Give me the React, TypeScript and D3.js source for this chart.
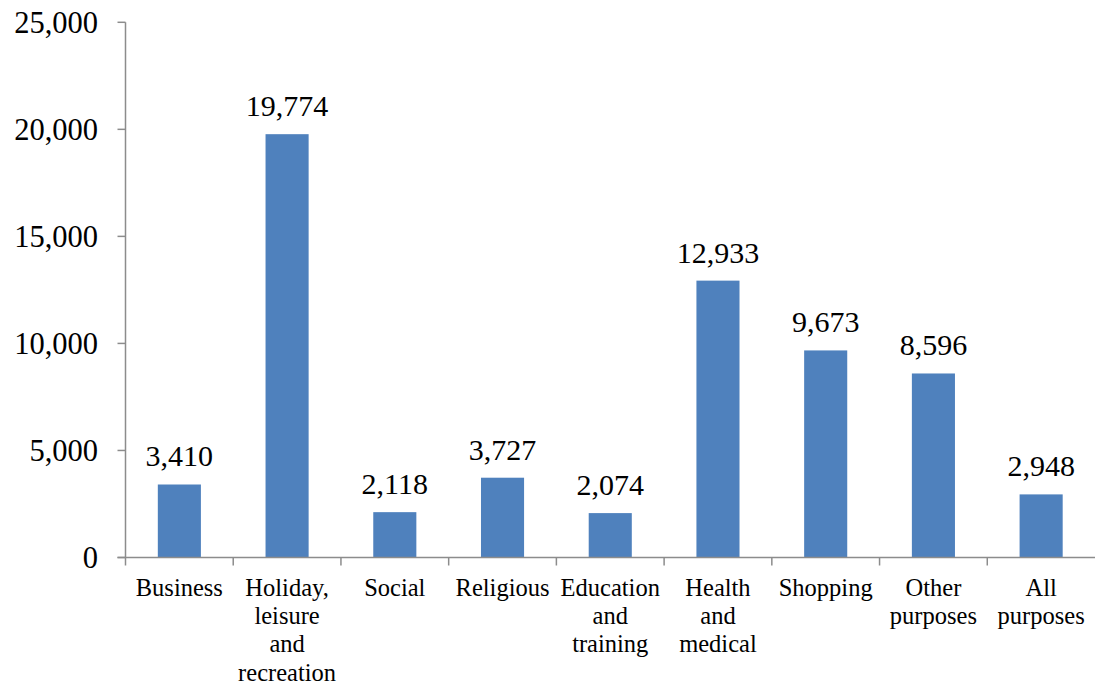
import React from "react";
import * as d3 from "d3";

const categories: string[][] = [
  ["Business"],
  ["Holiday,", "leisure", "and", "recreation"],
  ["Social"],
  ["Religious"],
  ["Education", "and", "training"],
  ["Health", "and", "medical"],
  ["Shopping"],
  ["Other", "purposes"],
  ["All", "purposes"],
];
const values: number[] = [3410, 19774, 2118, 3727, 2074, 12933, 9673, 8596, 2948];
const yTicks: number[] = [0, 5000, 10000, 15000, 20000, 25000];

const W = 1097;
const H = 686;
const left = 125.5;
const right = 1095;
const top = 22.3;
const bottom = 557.5;
const fontFamily = "'Liberation Serif', 'Times New Roman', serif";

export default function App() {
  const ids = categories.map((_, i) => String(i));
  const x = d3.scaleBand<string>().domain(ids).range([left, right]).padding(0);
  const y = d3.scaleLinear().domain([0, 25000]).range([bottom, top]);
  const barW = x.bandwidth() * 0.4;
  const fmt = d3.format(",");
  const axisColor = "#8c8c8c";

  return (
    <svg width={W} height={H} style={{ position: "absolute", left: 0, top: 0, background: "#fff" }}>
      {values.map((v, i) => {
        const cx = (x(String(i)) as number) + x.bandwidth() / 2;
        return (
          <g key={i}>
            <rect x={cx - barW / 2} y={y(v)} width={barW} height={bottom - y(v)} fill="#4F81BD" />
            <text x={cx} y={y(v) - 18} textAnchor="middle" fontFamily={fontFamily} fontSize={30} fill="#000">
              {fmt(v)}
            </text>
          </g>
        );
      })}
      <line x1={left} x2={left} y1={top} y2={bottom} stroke={axisColor} strokeWidth={1.5} />
      {yTicks.map((t) => (
        <g key={t}>
          <line x1={left - 8} x2={left} y1={y(t)} y2={y(t)} stroke={axisColor} strokeWidth={1.5} />
          <text x={98} y={y(t)} dy="0.35em" textAnchor="end" fontFamily={fontFamily} fontSize={30.5} fill="#000">
            {fmt(t)}
          </text>
        </g>
      ))}
      <line x1={left - 8} x2={right} y1={bottom} y2={bottom} stroke={axisColor} strokeWidth={1.5} />
      {ids.map((id) => (
        <line key={id} x1={x(id) as number} x2={x(id) as number} y1={bottom} y2={bottom + 8} stroke={axisColor} strokeWidth={1.5} />
      ))}
      {categories.map((lines, i) => {
        const cx = (x(String(i)) as number) + x.bandwidth() / 2;
        return (
          <text key={i} textAnchor="middle" fontFamily={fontFamily} fontSize={24.5} fill="#000">
            {lines.map((ln, j) => (
              <tspan key={j} x={cx} y={595.7 + j * 28.3}>
                {ln}
              </tspan>
            ))}
          </text>
        );
      })}
    </svg>
  );
}
